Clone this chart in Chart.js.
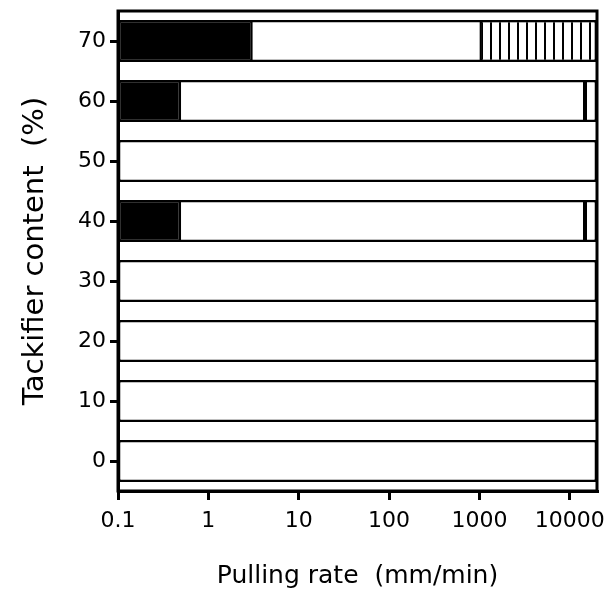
<!DOCTYPE html>
<html>
<head>
<meta charset="utf-8">
<script src="https://cdn.jsdelivr.net/npm/chart.js@4"></script>
<style>
  html, body { margin: 0; padding: 0; background: #fff; }
  #wrap { width: 607px; height: 595px; }
</style>
</head>
<body>
<div id="wrap"><canvas id="c"></canvas></div>
<script>
  // tackifier content (%) of each sample
  const contents = [0, 10, 20, 30, 40, 50, 60, 70];
  const xTicks = [0.1, 1, 10, 100, 1000, 10000];
  const yTicks = [0, 10, 20, 30, 40, 50, 60, 70];
  const rateMin = 0.1, rateMax = 20000;

  // failure-mode segments: [content, from rate, to rate]
  const blackSegs = [
    [40, 0.1, 0.5], [40, 14000, 15500],
    [60, 0.1, 0.5], [60, 14000, 15500],
    [70, 0.1, 3.1]
  ];
  const hatchSegs = [[70, 1000, 20000]];

  function hatch() {
    const c = document.createElement('canvas');
    c.width = 9; c.height = 4;
    const g = c.getContext('2d');
    g.fillStyle = '#fff'; g.fillRect(0, 0, 9, 4);
    g.fillStyle = '#000'; g.fillRect(4, 0, 2, 4);
    return g.createPattern(c, 'repeat');
  }

  const toPts = segs => segs.map(s => ({ y: s[0], x: [s[1], s[2]] }));

  const frame = {
    id: 'frame',
    afterDatasetsDraw(chart) {
      const a = chart.chartArea, ctx = chart.ctx;
      ctx.save();
      ctx.strokeStyle = '#000';
      ctx.lineWidth = 3;
      ctx.strokeRect(a.left, a.top, a.right - a.left, a.bottom - a.top);
      ctx.restore();
    }
  };

  const common = { borderColor: '#000', borderWidth: 2.5, borderSkipped: false, grouped: false,
                   categoryPercentage: 0.7, barPercentage: 1 };

  new Chart(document.getElementById('c'), {
    type: 'bar',
    data: {
      datasets: [
        { ...common, label: 'black', data: toPts(blackSegs), backgroundColor: '#000', order: 1 },
        { ...common, label: 'hatch', data: toPts(hatchSegs), backgroundColor: hatch(), order: 1 },
        { ...common, label: 'white', data: contents.map(c => ({ y: c, x: [rateMin, rateMax] })),
          backgroundColor: '#fff', order: 2 }
      ]
    },
    options: {
      indexAxis: 'y',
      responsive: true,
      maintainAspectRatio: false,
      animation: false,
      layout: { padding: 0 },
      plugins: { legend: { display: false }, tooltip: { enabled: false } },
      scales: {
        x: {
          type: 'logarithmic',
          min: rateMin, max: rateMax,
          afterBuildTicks: s => { s.ticks = xTicks.map(v => ({ value: v })); },
          afterFit: s => { s.height = 104; s.paddingLeft = 0; s.paddingRight = 10; },
          grid: { drawOnChartArea: false, color: '#000', lineWidth: 3, tickLength: 9 },
          border: { color: '#000', width: 3 },
          ticks: { color: '#000', padding: 8, maxRotation: 0, autoSkip: false,
                   font: { family: 'DejaVu Sans', size: 22 }, callback: v => String(v) },
          title: { display: true, text: 'Pulling rate  (mm/min)', color: '#000',
                   font: { family: 'DejaVu Sans', size: 25 }, padding: { top: 0, bottom: 4 } }
        },
        y: {
          type: 'linear',
          offset: false,
          min: -5, max: 75,
          afterBuildTicks: s => { s.ticks = yTicks.map(v => ({ value: v })); },
          afterFit: s => { s.width = 118; s.paddingTop = 11; s.paddingBottom = 0; },
          grid: { offset: false, drawOnChartArea: false, color: '#000', lineWidth: 3, tickLength: 8 },
          border: { color: '#000', width: 3 },
          ticks: { color: '#000', padding: 4, font: { family: 'DejaVu Sans', size: 22 } },
          title: { display: true, text: 'Tackifier content  (%)', color: '#000',
                   font: { family: 'DejaVu Sans', size: 29 }, padding: { top: 18, bottom: 0 } }
        }
      }
    },
    plugins: [frame]
  });
</script>
</body>
</html>
